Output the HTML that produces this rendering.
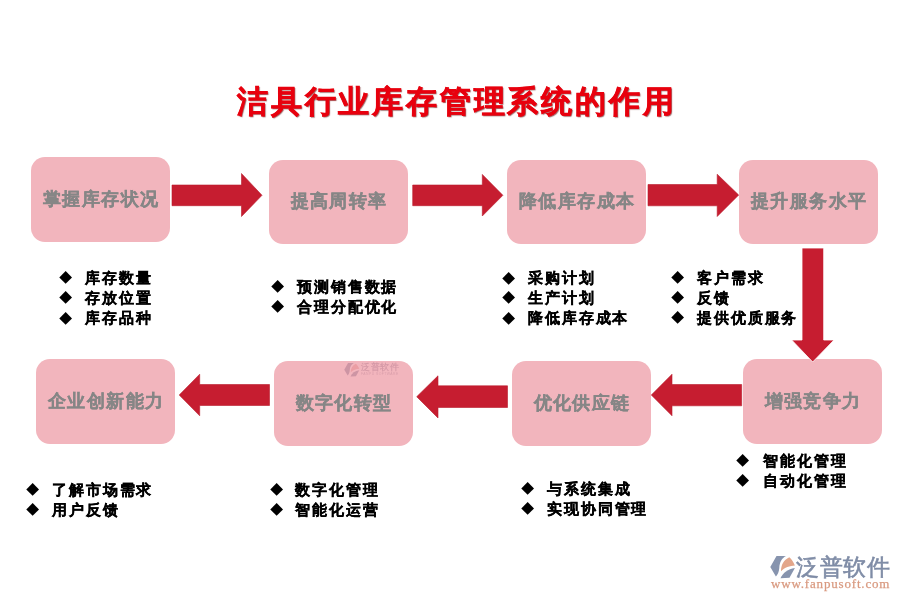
<!DOCTYPE html>
<html><head><meta charset="utf-8">
<style>
*{margin:0;padding:0;box-sizing:border-box}
html,body{width:900px;height:600px;overflow:hidden;background:#fff}
body{position:relative;font-family:"Liberation Sans",sans-serif}
.title{position:absolute;left:237px;top:81px;font-size:31px;letter-spacing:2.8px;font-weight:bold;color:#E8000E;white-space:nowrap;line-height:42px;text-shadow:1px 1px 1px rgba(100,15,15,.65);-webkit-text-stroke:0.55px #E8000E;will-change:transform}
.box{position:absolute;background:#F2B5BD;border-radius:14px;color:#858585;font-weight:bold;font-size:17.5px;letter-spacing:1.4px;text-indent:1.4px;padding-bottom:2px;-webkit-text-stroke:0.35px #868686;will-change:transform;display:flex;align-items:center;justify-content:center;white-space:nowrap}
.list{position:absolute;font-size:15px;letter-spacing:1.9px;font-weight:bold;color:#000;line-height:20.2px;white-space:nowrap;-webkit-text-stroke:0.3px #000;will-change:transform}
.list div{position:relative;padding-left:0}
.d{position:absolute;width:9.3px;height:9.3px;background:#000;transform:rotate(45deg)}
svg{position:absolute;left:0;top:0}
</style></head><body>
<div class="title">洁具行业库存管理系统的作用</div>

<div class="box" style="left:31px;top:157px;width:139px;height:85px">掌握库存状况</div>
<div class="box" style="left:269px;top:160px;width:139px;height:84px">提高周转率</div>
<div class="box" style="left:507px;top:160px;width:139px;height:84px">降低库存成本</div>
<div class="box" style="left:739px;top:160px;width:139px;height:84px">提升服务水平</div>
<div class="box" style="left:743px;top:359px;width:139px;height:85px">增强竞争力</div>
<div class="box" style="left:512px;top:361px;width:139px;height:85px">优化供应链</div>
<div class="box" style="left:274px;top:361px;width:139px;height:85px">数字化转型</div>
<div class="box" style="left:36px;top:359px;width:139px;height:85px">企业创新能力</div>

<svg width="900" height="600" viewBox="0 0 900 600">
<g fill="#C61D30" stroke="#B81B2C" stroke-width="0.6">
<polygon points="172,185 241.5,185 241.5,173.5 262,195.3 241.5,216.5 241.5,205.7 172,205.7"/>
<polygon points="412.7,185 482.3,185 482.3,174.4 502.9,195.3 482.3,216 482.3,205.7 412.7,205.7"/>
<polygon points="648,184.5 717.2,184.5 717.2,174.2 738.7,195 717.2,216.5 717.2,205.8 648,205.8"/>
<polygon points="802,248 823.7,248 823.7,340 834,340 812.7,362 791.7,340 802,340" stroke="#fff" stroke-width="0.8"/>
<polygon points="741.7,384.5 672,384.5 672,374.2 651.3,395 672,415.8 672,405.8 741.7,405.8"/>
<polygon points="507.5,385.8 438,385.8 438,375.8 416.7,396.7 438,418 438,407.5 507.5,407.5"/>
<polygon points="269.5,384.5 199.7,384.5 199.7,374.2 179.2,395 199.7,415.8 199.7,405.5 269.5,405.5"/>
</g>
</svg>

<div class="list" style="left:85px;top:268px">
<div>库存数量</div><div>存放位置</div><div>库存品种</div>
</div>
<div class="list" style="left:297px;top:277px">
<div>预测销售数据</div><div>合理分配优化</div>
</div>
<div class="list" style="left:528px;top:268px">
<div>采购计划</div><div>生产计划</div><div>降低库存成本</div>
</div>
<div class="list" style="left:697px;top:268px">
<div>客户需求</div><div>反馈</div><div>提供优质服务</div>
</div>
<div class="list" style="left:763px;top:451px">
<div>智能化管理</div><div>自动化管理</div>
</div>
<div class="list" style="left:52px;top:480px">
<div>了解市场需求</div><div>用户反馈</div>
</div>
<div class="list" style="left:295px;top:480px">
<div>数字化管理</div><div>智能化运营</div>
</div>
<div class="list" style="left:547px;top:479px">
<div>与系统集成</div><div>实现协同管理</div>
</div>

<!-- diamonds -->
<div class="d" style="left:60.8px;top:273.3px"></div>
<div class="d" style="left:60.8px;top:293.3px"></div>
<div class="d" style="left:60.8px;top:314.3px"></div>

<div class="d" style="left:272.8px;top:282px"></div>
<div class="d" style="left:272.8px;top:302px"></div>

<div class="d" style="left:504.3px;top:273.5px"></div>
<div class="d" style="left:504.3px;top:293.1px"></div>
<div class="d" style="left:504.3px;top:314px"></div>

<div class="d" style="left:673.3px;top:272.9px"></div>
<div class="d" style="left:673.3px;top:292.9px"></div>
<div class="d" style="left:673.3px;top:313.3px"></div>

<div class="d" style="left:738.3px;top:456.3px"></div>
<div class="d" style="left:738.3px;top:476px"></div>

<div class="d" style="left:27.5px;top:485.3px"></div>
<div class="d" style="left:27.5px;top:505px"></div>

<div class="d" style="left:271.6px;top:485.3px"></div>
<div class="d" style="left:271.6px;top:505px"></div>

<div class="d" style="left:523.4px;top:484.3px"></div>
<div class="d" style="left:523.4px;top:504px"></div>


<svg style="left:770px;top:556px" width="26" height="23" viewBox="0 0 26 23">
<path d="M6.5,0 L16,0 C12,2 9.5,6 9.3,12 C9,16 7.5,19 5.9,20.5 L0.3,11 Z" fill="#8794AE"/>
<path d="M11,15.3 C11,9 13.5,4 19.3,1.2 C21.5,3 23.5,6 24.9,9.5 C20,9.8 14.5,11.5 11,15.3 Z" fill="#E3A68A"/>
<path d="M10.5,22.3 C13,17 18,12.8 24.9,12.1 L19.5,21.7 Z" fill="#8794AE"/>
</svg>
<div style="position:absolute;left:796px;top:550px;font-size:23px;line-height:34px;color:#7F8CA6;letter-spacing:0.6px;-webkit-text-stroke:0.6px #7F8CA6;white-space:nowrap;will-change:transform">泛普软件</div>
<div style="position:absolute;left:771px;top:576px;font-family:'Liberation Serif',serif;font-size:13px;line-height:16px;color:#D99A80;letter-spacing:0.82px;-webkit-text-stroke:0.25px #D99A80;white-space:nowrap;will-change:transform">www.fanpusoft.com</div>

<svg style="left:344px;top:363px;opacity:.55" width="16" height="14" viewBox="0 0 26 23">
<path d="M6.5,0 L16,0 C12,2 9.5,6 9.3,12 C9,16 7.5,19 5.9,20.5 L0.3,11 Z" fill="#B07A90"/>
<path d="M11,15.3 C11,9 13.5,4 19.3,1.2 C21.5,3 23.5,6 24.9,9.5 C20,9.8 14.5,11.5 11,15.3 Z" fill="#E58A90"/>
<path d="M10.5,22.3 C13,17 18,12.8 24.9,12.1 L19.5,21.7 Z" fill="#B07A90"/>
</svg>
<div style="position:absolute;left:360.5px;top:361px;font-size:8.6px;line-height:12px;color:#C98E9E;opacity:.75;white-space:nowrap;letter-spacing:.5px;-webkit-text-stroke:0.2px #C98E9E;will-change:transform">泛普软件</div>
<div style="position:absolute;left:361px;top:372px;font-size:3.4px;line-height:5px;color:#C98E9E;opacity:.6;white-space:nowrap;letter-spacing:.45px;will-change:transform">FANPU SOFTWARE</div>

</body></html>
